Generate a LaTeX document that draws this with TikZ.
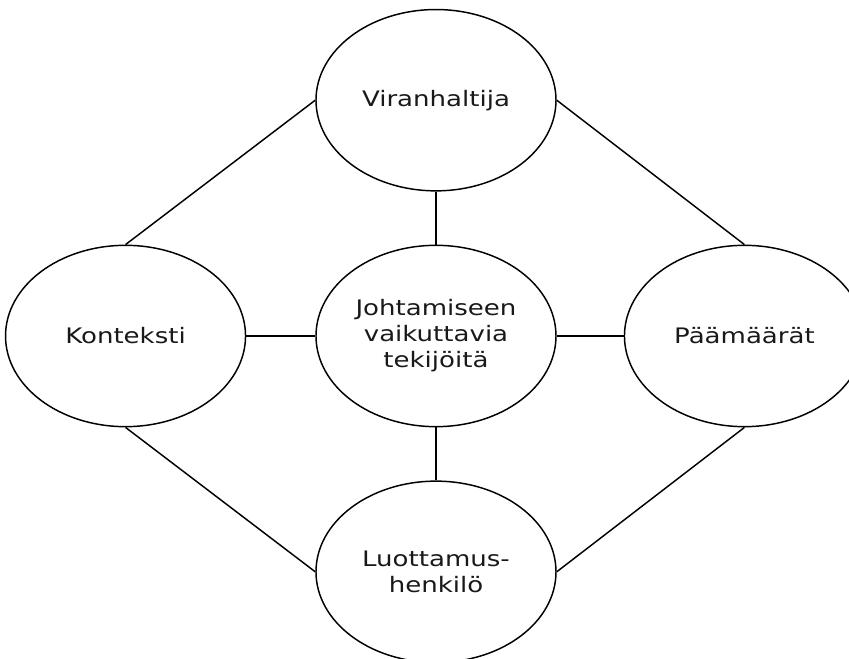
\documentclass[tikz,border=0pt]{standalone}
\usepackage{fontspec}
\setmainfont[FakeStretch=1.22]{DejaVu Sans}
\usetikzlibrary{positioning}
\usetikzlibrary{shapes}

\tikzset{
    factor/.style={ellipse, draw, line width=1.1pt, minimum width=180pt,
        minimum height=136pt, inner sep=0pt, align=center,
        font=\fontsize{16}{19.5}\selectfont, text=black!90},
    link/.style={line width=1.1pt}
}

\begin{document}
\begin{tikzpicture}
    \useasboundingbox (-327pt,-242.25pt) rectangle (309.75pt,252pt);

    \node[factor] (J) at (0,0) {Johtamiseen\\vaikuttavia\\tekijöitä};
    \node[factor, above=39.75pt of J] (V) {Viranhaltija};
    \node[factor, left=51.75pt of J] (K) {Konteksti};
    \node[factor, right=50.25pt of J] (P) {Päämäärät};
    \node[factor, below=39.75pt of J] (L) {Luottamus-\\henkilö};

    \draw[link] (J) edge (V);
    \draw[link] (J) edge (K);
    \draw[link] (J) edge (P);
    \draw[link] (J) edge (L);
    \draw[link] (K.north) edge (V.west);
    \draw[link] (V.east) edge (P.north);
    \draw[link] (K.south) edge (L.west);
    \draw[link] (P.south) edge (L.east);
\end{tikzpicture}
\end{document}
